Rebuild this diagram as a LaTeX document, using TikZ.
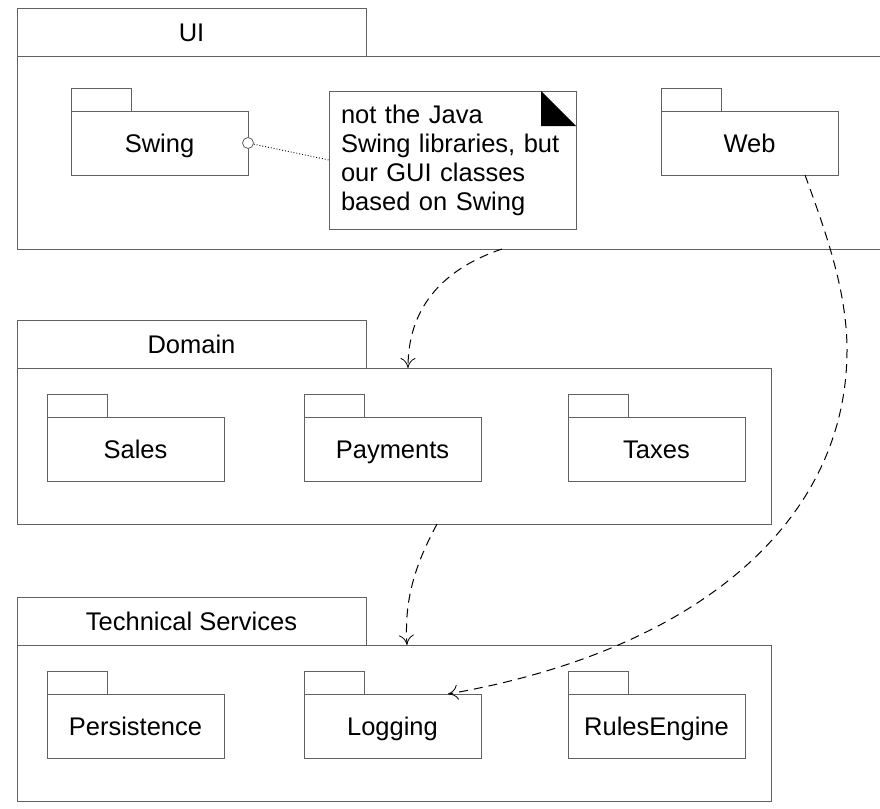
\documentclass[tikz,border=0pt]{standalone}
\usepackage{fontspec}
\setmainfont{Liberation Sans}
\usetikzlibrary{arrows.meta}
\begin{document}
\begin{tikzpicture}[x=1pt,y=-1pt,
  box/.style={draw=black!62, line width=0.9pt, fill=white, inner sep=0pt, outer sep=0pt,
    anchor=north west, font=\fontsize{25.5}{29}\selectfont},
  captext/.style={text height=18.3pt, text depth=0pt},
  pkg/.style={box, captext, minimum width=177pt, minimum height=64pt},
  pkgtab/.style={box, anchor=south west, minimum width=60pt, minimum height=23pt},
  layertab/.style={box, captext, anchor=south west, minimum width=349pt, minimum height=48pt},
  dep/.style={draw=black, line width=1pt, dash pattern=on 9pt off 6pt,
    -{Computer Modern Rightarrow[length=10pt,width=15pt,line width=0.8pt]}}
]
\useasboundingbox (0,0) rectangle (880,808);
\begin{scope}
\clip (0,0) rectangle (880,808);
% UI layer
\node[box, minimum width=880pt, minimum height=193pt] (ui) at (17,56) {};
\end{scope}
\node[layertab] (uitab) at (17,56) {UI};
\node[pkg] (swing) at (71,111) {Swing};
\node[pkgtab] (swingtab) at (swing.north west) {};
\node[pkg] (web) at (661,111) {Web};
\node[pkgtab] (webtab) at (web.north west) {};
\node[box, minimum width=247pt, minimum height=138pt, text width=223pt, inner xsep=12pt,
  align=left] (note) at (329,91) {not the Java\\Swing libraries, but\\our GUI classes\\based on Swing};
\fill[black] (541,91) -- (576,126) -- (541,126) -- cycle;
\node[draw=black!62, line width=0.8pt, fill=white, circle, minimum size=11pt, inner sep=0pt] (swc) at (swing.east) {};
\draw[line width=0.9pt, dotted] (swc) -- (note.west);

% Domain layer
\node[box, minimum width=754pt, minimum height=156pt] (domain) at (17,368) {};
\node[layertab] (domaintab) at (domain.north west) {Domain};
\node[pkg] (sales) at (47,417) {Sales};
\node[pkgtab] (salestab) at (sales.north west) {};
\node[pkg] (payments) at (304,417) {Payments};
\node[pkgtab] (paymentstab) at (payments.north west) {};
\node[pkg] (taxes) at (568,417) {Taxes};
\node[pkgtab] (taxestab) at (taxes.north west) {};

% Technical services layer
\node[box, minimum width=754pt, minimum height=156pt] (tech) at (17,645) {};
\node[layertab] (techtab) at (tech.north west) {Technical Services};
\node[pkg] (persistence) at (47,694) {Persistence};
\node[pkgtab] (persistencetab) at (persistence.north west) {};
\node[pkg] (logging) at (304,694) {Logging};
\node[pkgtab] (loggingtab) at (logging.north west) {};
\node[pkg] (rules) at (568,694) {RulesEngine};
\node[pkgtab] (rulestab) at (rules.north west) {};

% dependencies
\coordinate (ui-out) at (502,249);
\coordinate (dom-in) at (408,368);
\coordinate (dom-out) at (437,524);
\coordinate (tech-in) at (407,645);
\coordinate (web-out) at (805,175);
\coordinate (web-mid) at (847,350);
\coordinate (log-in) at (448,694);
\draw[dep] (ui-out) .. controls (440,270) and (408,310) .. (dom-in);
\draw[dep] (dom-out) .. controls (415,565) and (404,600) .. (tech-in);
\draw[dep] (web-out) .. controls (825,230) and (847,290) .. (web-mid)
  .. controls (847,520) and (700,650) .. (log-in);
\end{tikzpicture}
\end{document}
